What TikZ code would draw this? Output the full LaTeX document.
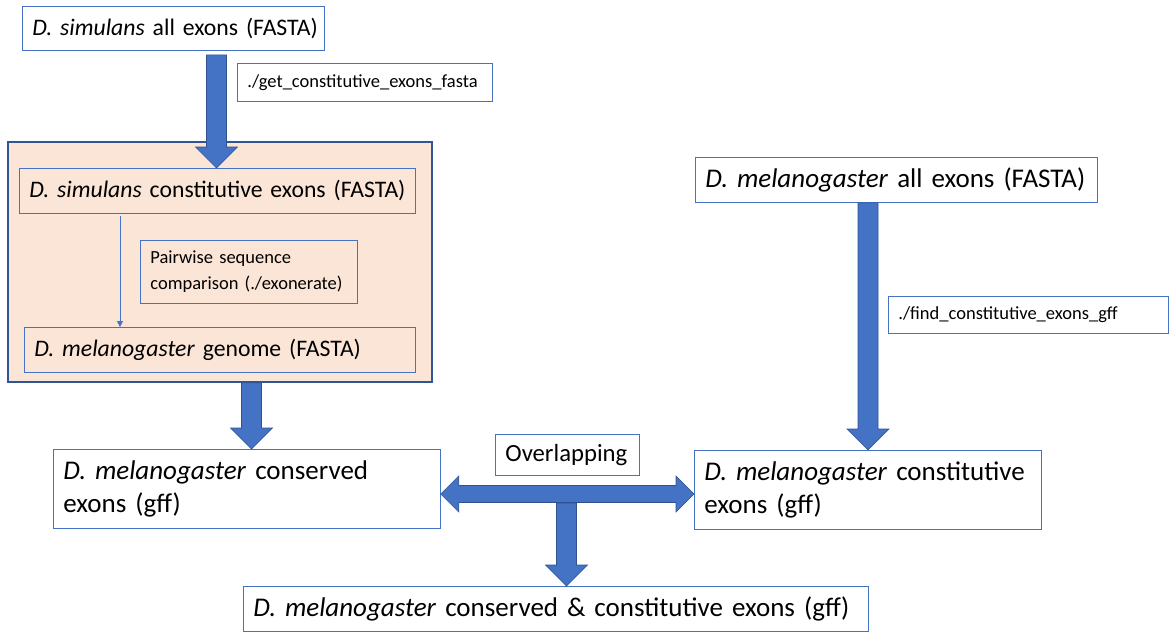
\documentclass[tikz,border=0pt]{standalone}
\usepackage{fontspec}
\setmainfont{Carlito}
\usepackage{xcolor}
\usetikzlibrary{calc,arrows.meta}

\definecolor{boxblue}{HTML}{4472C4}
\definecolor{edgeblue}{HTML}{2F528F}
\definecolor{panelblue}{HTML}{2F5597}
\definecolor{peach}{HTML}{FBE5D6}

\newcommand{\mainsize}{\fontsize{23.7}{28}\selectfont}
\newcommand{\bigsize}{\fontsize{27}{33}\selectfont}
\newcommand{\smallsize}{\fontsize{18.5}{26}\selectfont}

% block arrow pointing down: x centre, from, to
\newcommand{\fatdown}[3]{%
  \draw[fatarrow] let \p1=(#2), \p2=(#3) in
    (#1pt-10pt,\y1) -- (#1pt+10pt,\y1) -- (#1pt+10pt,\y2+21pt)
    -- (#1pt+21pt,\y2+21pt) -- (#1pt,\y2) -- (#1pt-21pt,\y2+21pt)
    -- (#1pt-10pt,\y2+21pt) -- cycle;}

% block arrow with two heads: y centre, left, right
\newcommand{\fatboth}[3]{%
  \draw[fatarrow] let \p1=(#2), \p2=(#3) in
    (\x1,-#1pt) -- (\x1+18pt,-#1pt+18pt) -- (\x1+18pt,-#1pt+8.5pt)
    -- (\x2-18pt,-#1pt+8.5pt) -- (\x2-18pt,-#1pt+18pt) -- (\x2,-#1pt)
    -- (\x2-18pt,-#1pt-18pt) -- (\x2-18pt,-#1pt-8.5pt)
    -- (\x1+18pt,-#1pt-8.5pt) -- (\x1+18pt,-#1pt-18pt) -- cycle;}

\begin{document}
\frenchspacing
\begin{tikzpicture}[x=1pt, y=-1pt,
  box/.style={draw=boxblue, line width=0.8pt, anchor=north west,
    align=left, inner xsep=10pt, inner ysep=0pt, font=\mainsize},
  panel/.style={draw=panelblue, fill=peach, line width=1.8pt,
    anchor=north west, inner sep=0pt},
  fatarrow/.style={fill=boxblue, draw=edgeblue, line width=0.6pt},
  thinarrow/.style={draw=boxblue, line width=0.8pt,
    -{Triangle[width=6pt,length=6pt]}}]
  \useasboundingbox (0,0) rectangle (1176,637);

  % shaded alignment step
  \node[panel, minimum width=424pt, minimum height=240pt] (frame) at (7,141) {};

  % simulans side
  \node[box, text width=282pt, minimum height=44pt] (simall) at (22,6)
    {\mbox{\textit{D. simulans} all exons (FASTA)}};
  \node[box, font=\smallsize, text width=235pt, minimum height=38pt] (getfasta) at (237,63)
    {./get\_constitutive\_exons\_fasta};
  \node[box, text width=376pt, minimum height=45pt] (simconst) at (19,168)
    {\mbox{\textit{D. simulans} constitutive exons (FASTA)}};
  \node[box, font=\smallsize, text width=197pt, minimum height=63pt] (pairwise) at (140,240)
    {Pairwise sequence\\\mbox{comparison (./exonerate)}};
  \node[box, text width=371pt, minimum height=45pt] (melgenome) at (24,327)
    {\textit{D. melanogaster} genome (FASTA)};

  % melanogaster side
  \node[box, font=\bigsize, text width=382pt, minimum height=45pt] (melall) at (695,157)
    {\mbox{\textit{D. melanogaster} all exons (FASTA)}};
  \node[box, font=\smallsize, text width=260pt, minimum height=37pt] (findgff) at (888,296)
    {./find\_constitutive\_exons\_gff};

  % results
  \node[box, font=\bigsize, text width=367pt, minimum height=79pt] (conserved) at (53,449)
    {\textit{D. melanogaster} conserved\\exons (gff)};
  \node[box, font=\bigsize, text width=327pt, minimum height=79pt] (constitutive) at (694,450)
    {\mbox{\textit{D. melanogaster} constitutive}\\exons (gff)};
  \node[box, font=\fontsize{24.7}{30}\selectfont, text width=124pt, minimum height=41pt] (overlap) at (495,434)
    {\mbox{Overlapping}};
  \node[box, font=\bigsize, text width=605pt, minimum height=45pt] (both) at (243,586)
    {\mbox{\textit{D. melanogaster} conserved \& constitutive exons (gff)}};

  % arrows
  \fatdown{216.5}{$(simall.south)+(0,-4pt)$}{simconst.north}
  \draw[thinarrow] ($(simconst.south west)+(101pt,-2pt)$) -- ($(melgenome.north west)+(96pt,0)$);
  \fatdown{251.5}{frame.south}{conserved.north}
  \fatdown{868}{melall.south}{constitutive.north}
  \fatboth{494}{conserved.east}{constitutive.west}
  \coordinate (split) at (566.5,503);
  \fatdown{566.5}{split}{both.north}

\end{tikzpicture}
\end{document}
